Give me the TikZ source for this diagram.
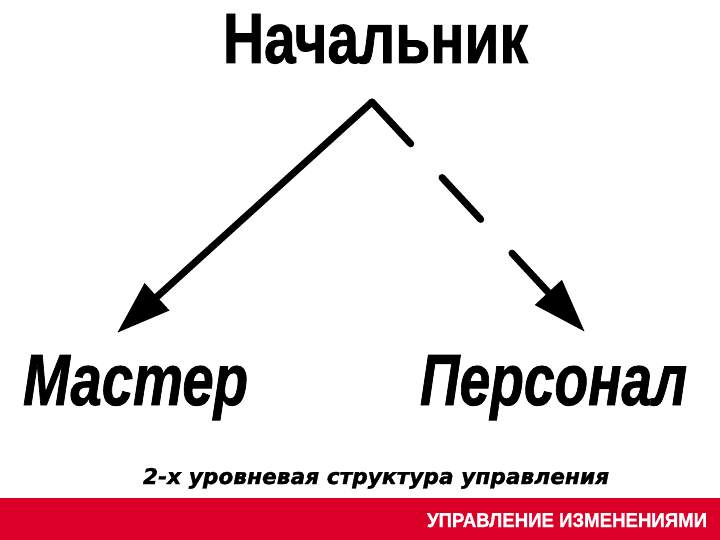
\documentclass[tikz,border=0pt]{standalone}
\usepackage{fontspec}
\setmainfont{Liberation Sans}
\newfontfamily\heavyup[FakeBold=1.2]{Liberation Sans Bold}
\newfontfamily\heavyit[FakeBold=1.2]{Liberation Sans Bold Italic}
\newfontfamily\capfont[FakeBold=1.5]{DejaVu Sans Bold Oblique}
\newfontfamily\barfont[FakeBold=1.5]{Liberation Sans Bold}
\usetikzlibrary{arrows.meta}
\definecolor{barred}{RGB}{218,0,40}
\begin{document}
\begin{tikzpicture}[x=1pt,y=-1pt,
  lbl/.style={inner sep=0pt, outer sep=0pt, anchor=base west},
  conn/.style={line width=7pt, line cap=round, line join=round, -{Triangle[length=54pt,width=35pt]}}]
\useasboundingbox (0,0) rectangle (720,540);
\fill[white] (0,0) rectangle (720,540);
\fill[barred] (0,498) rectangle (720,540);
\node[lbl] (boss) at (223,63) {\resizebox{305pt}{49pt}{\heavyup Начальник}};
\node[lbl] (master) at (23,405) {\resizebox{225pt}{50pt}{\heavyit Мастер}};
\node[lbl] (staff) at (420,405) {\resizebox{267pt}{50pt}{\heavyit Персонал}};
\node[lbl] (caption) at (143,484) {\resizebox{466pt}{16pt}{\capfont 2-х уровневая структура управления}};
\node[lbl, text=white] (bar) at (427,527) {\resizebox{280pt}{14pt}{\barfont УПРАВЛЕНИЕ ИЗМЕНЕНИЯМИ}};
\coordinate (apex) at (372,102);
\coordinate (mtip) at (117,333);
\coordinate (ptip) at (585,332);
\draw[conn] (apex) -- (mtip);
\draw[conn, dash pattern=on 57pt off 46pt] (apex) -- (ptip);
\end{tikzpicture}
\end{document}
